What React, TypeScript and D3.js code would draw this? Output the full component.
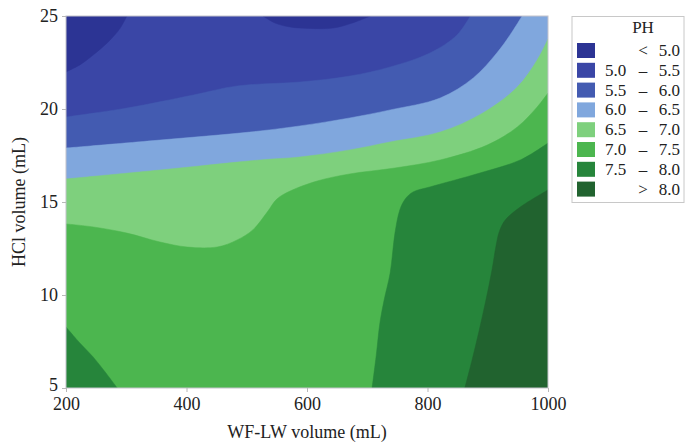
import React, { useEffect, useRef } from "react";
import * as d3 from "d3";

// pH class labels and fill colours (low → high)
const CLASS_LO = ["", "5.0", "5.5", "6.0", "6.5", "7.0", "7.5", ""];
const CLASS_SYM = ["<", "–", "–", "–", "–", "–", "–", ">"];
const CLASS_HI = ["5.0", "5.5", "6.0", "6.5", "7.0", "7.5", "8.0", "8.0"];
const CLASS_COLORS = ["#2c3494", "#3a46a6", "#435bb1", "#80a7dd", "#7ed07d", "#4cb64f", "#26853b", "#21632f"];

const X_TICKS = [200, 400, 600, 800, 1000];
const Y_TICKS = [5, 10, 15, 20, 25];

// Iso-pH lines as [WF-LW volume (mL), HCl volume (mL)]
const ph50TopLeft = [[200, 22.0], [223, 22.37], [245, 22.9], [273, 23.7], [290, 24.35], [301, 25]];
const ph50Top = [[527, 25], [547, 24.62], [572, 24.41], [605, 24.33], [643, 24.35], [675, 24.62], [705, 25]];
const ph55 = [[200, 19.57], [301, 20.05], [411, 20.75], [484, 21.24], [588, 21.45], [671, 21.77], [738, 22.26], [804, 23.01], [849, 23.98], [871, 25]];
const ph60 = [[200, 17.9], [356, 18.33], [505, 18.76], [588, 19.09], [671, 19.52], [738, 19.95], [821, 20.59], [876, 21.67], [915, 23.01], [937, 23.98], [957, 25]];
const ph65 = [[200, 16.24], [356, 16.72], [522, 17.26], [588, 17.42], [671, 17.8], [738, 18.23], [821, 18.76], [892, 19.79], [949, 21.18], [982, 22.63], [1000, 23.76]];
const ph70 = [[200, 13.82], [245, 13.66], [301, 13.33], [356, 12.85], [401, 12.58], [451, 12.58], [484, 12.96], [510, 13.5], [534, 14.46], [550, 15.16], [572, 15.59], [617, 16.13], [671, 16.51], [746, 16.83], [821, 17.26], [899, 18.06], [949, 19.03], [982, 20.11], [1000, 20.86]];
const ph75Left = [[200, 8.28], [223, 7.42], [245, 6.67], [265, 5.86], [285, 5]];
const ph75Right = [[708, 5], [715, 6.78], [721, 8.5], [728, 9.73], [738, 11.18], [746, 13.33], [754, 14.57], [763, 15.16], [776, 15.54], [804, 15.81], [887, 16.56], [954, 17.26], [1000, 18.17]];
const ph80 = [[862, 5], [874, 6.51], [886, 8.12], [897, 9.73], [907, 11.34], [914, 12.69], [919, 13.39], [929, 14.03], [954, 14.73], [1000, 15.65]];

const W = 686;
const H = 447;
const M = { left: 66, right: 548, top: 16, bottom: 388 };
const FONT = "'Liberation Serif', 'Times New Roman', serif";

const x = d3.scaleLinear().domain([200, 1000]).range([M.left, M.right]);
const y = d3.scaleLinear().domain([5, 25]).range([M.bottom, M.top]);

const corner: Record<string, [number, number]> = {
  tl: [200, 25],
  tr: [1000, 25],
  br: [1000, 5],
  bl: [200, 5],
};

const curve = d3
  .line<number[]>()
  .x((d) => x(d[0]))
  .y((d) => y(d[1]))
  .curve(d3.curveCatmullRom.alpha(0.5));

// Filled band: iso line, then closed along the plot edges through the given corners
function band(pts: number[][], corners: string[]) {
  let p = curve(pts) || "";
  corners.forEach((c) => {
    p += `L${x(corner[c][0])},${y(corner[c][1])}`;
  });
  return p + "Z";
}

const regions = [
  { d: band(ph50TopLeft, ["tl"]), c: CLASS_COLORS[0] },
  { d: band(ph50Top, []), c: CLASS_COLORS[0] },
  { d: band(ph55, ["tr", "br", "bl"]), c: CLASS_COLORS[2] },
  { d: band(ph60, ["tr", "br", "bl"]), c: CLASS_COLORS[3] },
  { d: band(ph65, ["br", "bl"]), c: CLASS_COLORS[4] },
  { d: band(ph70, ["br", "bl"]), c: CLASS_COLORS[5] },
  { d: band(ph75Left, ["bl"]), c: CLASS_COLORS[6] },
  { d: band(ph75Right, ["br"]), c: CLASS_COLORS[6] },
  { d: band(ph80, ["br"]), c: CLASS_COLORS[7] },
];

export default function App() {
  const xRef = useRef<SVGGElement>(null);
  const yRef = useRef<SVGGElement>(null);

  useEffect(() => {
    const style = (g: d3.Selection<SVGGElement, unknown, null, undefined>) => {
      g.select(".domain").remove();
      g.selectAll(".tick line").attr("stroke", "#b8b8b8");
      g.selectAll(".tick text")
        .attr("fill", "#222")
        .style("font-family", FONT)
        .style("font-size", "18px");
    };
    const gx = d3.select(xRef.current!);
    gx.call(d3.axisBottom(x).tickValues(X_TICKS).tickSize(4).tickPadding(5).tickFormat(d3.format("d")));
    style(gx);
    const gy = d3.select(yRef.current!);
    gy.call(d3.axisLeft(y).tickValues(Y_TICKS).tickSize(4).tickPadding(4).tickFormat(d3.format("d")));
    style(gy);
    // bottom label sits a little higher so it clears the corner x label
    gy.selectAll<SVGTextElement, number>(".tick text").attr("dy", (d) => (d === 5 ? "0.12em" : "0.28em"));
  }, []);

  const rowTop = (i: number) => 43 + i * 19.8;

  return (
    <svg
      width={W}
      height={H}
      style={{ position: "absolute", left: 0, top: 0, background: "#fff" }}
      fontFamily={FONT}
    >
      <defs>
        <clipPath id="plot-clip">
          <rect x={M.left} y={M.top} width={M.right - M.left} height={M.bottom - M.top} />
        </clipPath>
      </defs>
      <g clipPath="url(#plot-clip)">
        <rect x={M.left} y={M.top} width={M.right - M.left} height={M.bottom - M.top} fill={CLASS_COLORS[1]} />
        {regions.map((r, i) => (
          <path key={i} d={r.d} fill={r.c} stroke={r.c} strokeWidth={0.5} />
        ))}
      </g>
      <rect
        x={M.left}
        y={M.top}
        width={M.right - M.left}
        height={M.bottom - M.top}
        fill="none"
        stroke="#c4c4cc"
        strokeWidth={1}
      />
      <g ref={xRef} transform={`translate(0,${M.bottom})`} />
      <g ref={yRef} transform={`translate(${M.left},0)`} />
      <text x={(M.left + M.right) / 2} y={438} textAnchor="middle" fontSize={18} fill="#222">
        WF-LW volume (mL)
      </text>
      <text
        transform={`translate(25,${(M.top + M.bottom) / 2}) rotate(-90)`}
        textAnchor="middle"
        fontSize={18}
        fill="#222"
      >
        HCl volume (mL)
      </text>

      <g>
        <rect x={572} y={16.5} width={112} height={186} fill="#fff" stroke="#c8c8c8" strokeWidth={1} />
        <text x={643} y={33} textAnchor="middle" fontSize={17} fill="#222">
          PH
        </text>
        {CLASS_COLORS.map((c, i) => (
          <g key={i}>
            <rect x={577} y={rowTop(i)} width={18} height={15} fill={c} />
            {CLASS_LO[i] && (
              <text x={605} y={rowTop(i) + 13} fontSize={17} fill="#222">
                {CLASS_LO[i]}
              </text>
            )}
            <text x={643} y={rowTop(i) + 13} textAnchor="middle" fontSize={17} fill="#222">
              {CLASS_SYM[i]}
            </text>
            <text x={680} y={rowTop(i) + 13} textAnchor="end" fontSize={17} fill="#222">
              {CLASS_HI[i]}
            </text>
          </g>
        ))}
      </g>
    </svg>
  );
}
